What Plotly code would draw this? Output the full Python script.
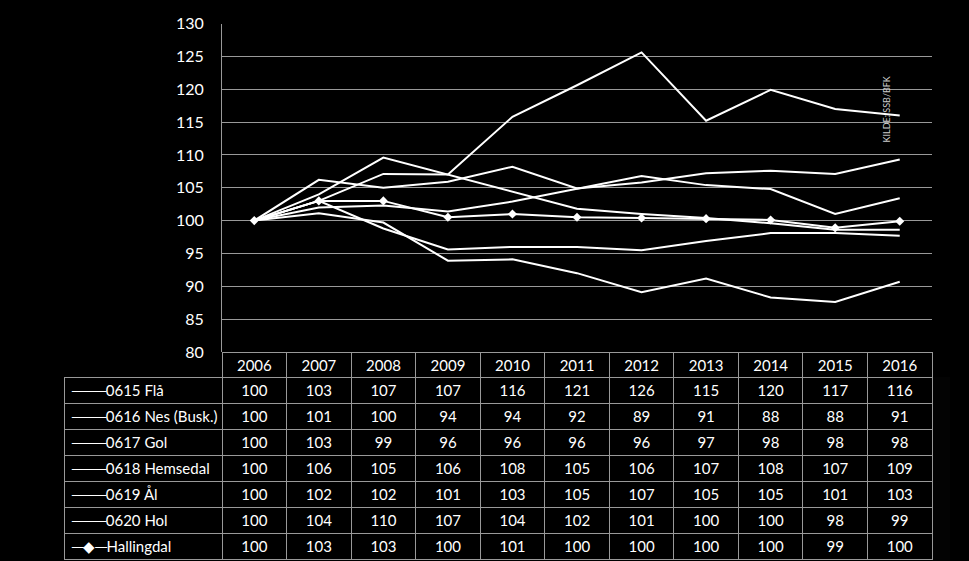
import plotly.graph_objects as go

W, H = 969, 561

years = [2006, 2007, 2008, 2009, 2010, 2011, 2012, 2013, 2014, 2015, 2016]
names = ["0615 Flå", "0616 Nes (Busk.)", "0617 Gol", "0618 Hemsedal", "0619 Ål", "0620 Hol", "Hallingdal"]

fla       = [100, 103.0, 107.1, 107.0, 115.8, 120.6, 125.6, 115.2, 119.9, 117.0, 116.0]
nes       = [100, 101.1, 99.7, 93.9, 94.1, 92.0, 89.1, 91.2, 88.3, 87.6, 90.7]
gol       = [100, 103.0, 98.8, 95.6, 96.0, 96.0, 95.5, 96.9, 98.1, 98.1, 97.7]
hemsedal  = [100, 106.2, 105.0, 105.9, 108.2, 104.9, 105.8, 107.2, 107.6, 107.1, 109.3]
aal       = [100, 102.0, 102.3, 101.4, 102.9, 104.8, 106.8, 105.4, 104.8, 101.0, 103.4]
hol       = [100, 104.0, 109.6, 107.0, 104.4, 101.8, 101.0, 100.4, 99.6, 98.6, 98.6]
hallingdal = [100, 103.0, 103.0, 100.5, 101.0, 100.5, 100.4, 100.3, 100.1, 98.9, 99.9]

table_fla = [100, 103, 107, 107, 116, 121, 126, 115, 120, 117, 116]
table_nes = [100, 101, 100, 94, 94, 92, 89, 91, 88, 88, 91]
table_gol = [100, 103, 99, 96, 96, 96, 96, 97, 98, 98, 98]
table_hemsedal = [100, 106, 105, 106, 108, 105, 106, 107, 108, 107, 109]
table_aal = [100, 102, 102, 101, 103, 105, 107, 105, 105, 101, 103]
table_hol = [100, 104, 110, 107, 104, 102, 101, 100, 100, 98, 99]
table_hallingdal = [100, 103, 103, 100, 101, 100, 100, 100, 100, 99, 100]

series = [fla, nes, gol, hemsedal, aal, hol, hallingdal]
table_rows = [table_fla, table_nes, table_gol, table_hemsedal, table_aal, table_hol, table_hallingdal]

FONT = "Lato"
GRID = "#999999"
CLEAR = "rgba(0,0,0,0)"

fig = go.Figure()

for name, vals in zip(names, series):
    is_h = name == "Hallingdal"
    fig.add_trace(go.Scatter(
        x=years, y=vals, name=name,
        mode="lines+markers" if is_h else "lines",
        line=dict(color="white", width=2),
        marker=dict(symbol="diamond", size=7, color="white"),
        showlegend=False, hoverinfo="skip",
    ))

# table geometry (pixels)
px_left_tbl = 64
px_left = 222
px_right = 932
px_top = 23.5
px_axis = 352

legend_labels = []
for name in names:
    label = name.replace(" ", "\u00a0")
    if name == "Hallingdal":
        legend_labels.append("─◆─" + label)
    else:
        legend_labels.append("───" + label)

header_vals = [""] + [str(y) for y in years]
cols = [legend_labels] + [[str(r[i]) for r in table_rows] for i in range(len(years))]
n = len(years)

fig.add_trace(go.Table(
    domain=dict(x=[px_left_tbl / W, px_right / W], y=[0, 1 - px_axis / H]),
    columnwidth=[158] + [64.5] * n,
    header=dict(
        values=header_vals,
        fill_color=[CLEAR] + ["black"] * n,
        line=dict(color=[CLEAR] + [GRID] * n, width=1),
        font=dict(family=FONT, size=15, color="white"),
        align="center",
        height=25,
    ),
    cells=dict(
        values=cols,
        fill_color="black",
        line=dict(color=GRID, width=1),
        font=dict(family=FONT, size=[15] + [15] * n, color="white"),
        align=["left"] + ["center"] * n,
        height=26,
    ),
))

fig.update_layout(
    template="none",
    width=W, height=H,
    paper_bgcolor="black", plot_bgcolor="black",
    margin=dict(l=0, r=0, t=0, b=0, autoexpand=False),
    xaxis=dict(
        domain=[px_left / W, px_right / W],
        range=[2005.5, 2016.5],
        showticklabels=False, showgrid=False, zeroline=False,
        showline=False, ticks="", automargin=False,
    ),
    yaxis=dict(
        domain=[1 - px_axis / H, 1 - px_top / H],
        range=[80, 130], dtick=5,
        showgrid=True, gridcolor=GRID, gridwidth=1,
        zeroline=False, showline=True, linecolor=GRID, linewidth=1,
        ticks="", automargin=False,
        tickfont=dict(family=FONT, size=16, color="white"),
        ticklabelstandoff=14,
    ),
    annotations=[dict(
        text="KILDE: SSB/BFK", textangle=-90,
        x=2015.8, y=116.9, xref="x", yref="y",
        showarrow=False,
        font=dict(family=FONT, size=9, color="#cccccc"),
    )],
)

fig.write_html("out.html")
